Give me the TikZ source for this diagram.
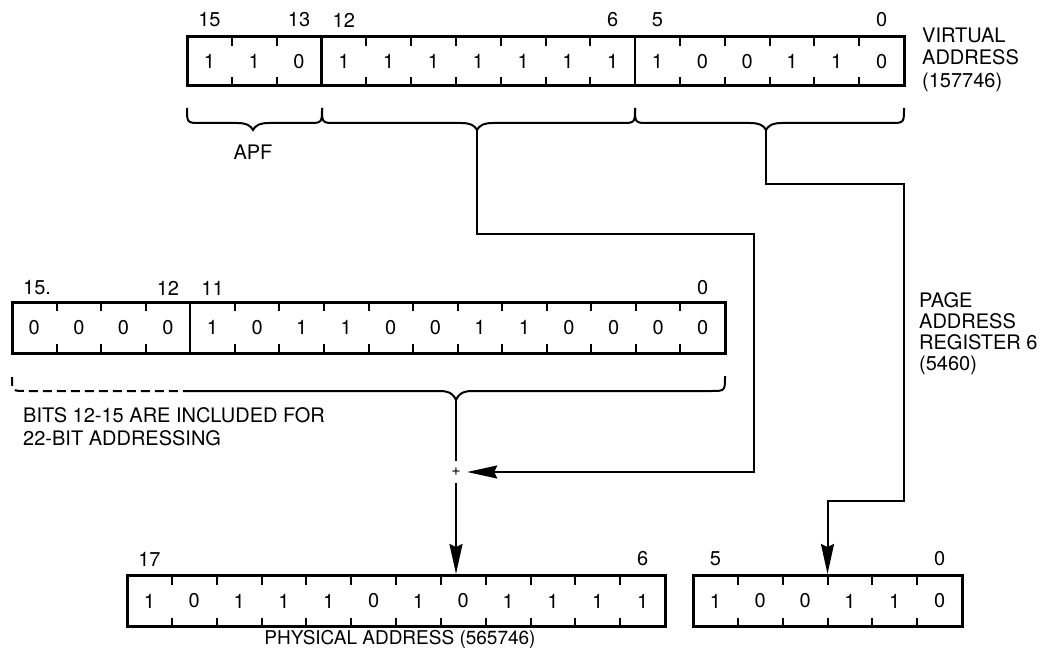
\documentclass[tikz,border=0pt]{standalone}
\usepackage{fontspec}
\setmainfont{TeX Gyre Heros}
\usetikzlibrary{arrows.meta,calc}
\newcommand\regticks[5]{% x0, cw, last index, ytop, ybot
  \foreach \i in {1,...,#3}{
    \draw[tick] (#1+\i*#2,#4) -- ++(0,9);
    \draw[tick] (#1+\i*#2,#5) -- ++(0,-9);
  }}
\newcommand\hbr[4]{% x1, xm, x2, y0
  \draw[brc] (#1,#4) .. controls (#1,#4+15) .. (#1+14,#4+15) -- (#2-16,#4+15)
    .. controls (#2-6,#4+15) and (#2-2,#4+18) .. (#2,#4+22)
    .. controls (#2+2,#4+18) and (#2+6,#4+15) .. (#2+16,#4+15)
    -- (#3-14,#4+15) .. controls (#3,#4+15) .. (#3,#4);}
\begin{document}
\begin{tikzpicture}[x=1pt,y=-1pt,
  txt/.style={inner sep=0pt, font=\fontsize{20}{22.5}\selectfont},
  bit/.style={txt},
  reg/.style={draw, line width=3pt, rectangle, inner sep=0pt},
  tick/.style={line width=2pt},
  divider/.style={line width=2.2pt},
  brc/.style={line width=2pt},
  conn/.style={line width=2pt},
  arr/.style={conn, -{Stealth[length=30pt,width=13pt,inset=3pt]}},
]
\useasboundingbox (0,0) rectangle (1047,650);

% ---------- virtual address register ----------
\node[reg, minimum width=717pt, minimum height=49pt] (va) at (545.5,61.5) {};
\regticks{187}{44.8125}{15}{37}{86}
\foreach \k in {3,10} \draw[divider] (187+\k*44.8125,37) -- (187+\k*44.8125,86);
\foreach \v [count=\i from 0] in {1,1,0,1,1,1,1,1,1,1,1,0,0,1,1,0}
  \node[bit] (va-\i) at (187+\i*44.8125+22.406,61.5) {\v};
\foreach \t/\k in {15/0,13/2,12/3,6/9,5/10,0/15}
  \node[txt] (vn-\k) at (187+\k*44.8125+22.406,20) {\t};
\node[txt, anchor=west, align=left] (vlab) at (922,59.5) {VIRTUAL\\ADDRESS\\(157746)};

% braces under virtual address
\hbr{187}{253}{322}{108}
\hbr{322}{477}{635}{108}
\hbr{635}{766}{904}{108}
\coordinate (b1) at (253,130);
\coordinate (b2) at (477,130);
\coordinate (b3) at (766,130);
\node[txt] (apf) at (253,152) {APF};

% ---------- page address register ----------
\node[reg, minimum width=713pt, minimum height=51pt] (par) at (368.5,327.5) {};
\regticks{12}{44.5625}{15}{302}{353}
\draw[divider] (12+4*44.5625,302) -- (12+4*44.5625,353);
\foreach \v [count=\i from 0] in {0,0,0,0,1,0,1,1,0,0,1,1,0,0,0,0}
  \node[bit] (pr-\i) at (12+\i*44.5625+22.28,327.5) {\v};
\node[txt] (pn-0) at (34.3,288) {15\rlap{.}};
\foreach \t/\k in {12/3,11/4,0/15}
  \node[txt] (pn-\k) at (12+\k*44.5625+22.28,288) {\t};
\node[txt, anchor=west, align=left, font=\fontsize{20}{21}\selectfont] (plab) at (919,333.5) {PAGE\\ADDRESS\\REGISTER 6\\(5460)};

% dashed brace
\draw[brc, dash pattern=on 9pt off 5pt] (12,377) .. controls (12,391) .. (26,391) -- (190,391);
\draw[brc] (190,391) -- (440,391) .. controls (450,391) and (454,395) .. (456,400)
  .. controls (458,395) and (462,391) .. (472,391) -- (711,391) .. controls (725,391) .. (725,376);
\coordinate (b4) at (456,400);
\node[txt, anchor=west, align=left, font=\fontsize{20}{23}\selectfont] (blab) at (23,426.5) {BITS 12-15 ARE INCLUDED FOR\\22-BIT ADDRESSING};

% adder
\node[circle, minimum size=22pt, inner sep=0pt, font=\fontsize{16}{16}\selectfont] (plus) at (456,472) {+};

% ---------- physical address registers ----------
\node[reg, minimum width=538pt, minimum height=51pt] (pa1) at (396,601) {};
\regticks{127}{44.8333}{11}{575.5}{626.5}
\foreach \v [count=\i from 0] in {1,0,1,1,1,0,1,0,1,1,1,1}
  \node[bit] (pa-\i) at (127+\i*44.8333+22.417,601) {\v};
\node[txt] (an-17) at (149.4,559) {17};
\node[txt] (an-6) at (642.6,559) {6};

\node[reg, minimum width=269pt, minimum height=51pt] (pa2) at (827.5,601) {};
\regticks{693}{44.8333}{5}{575.5}{626.5}
\foreach \v [count=\i from 0] in {1,0,0,1,1,0}
  \node[bit] (pb-\i) at (693+\i*44.8333+22.417,601) {\v};
\node[txt] (bn-5) at (715.4,559) {5};
\node[txt] (bn-0) at (939.6,559) {0};

\node[txt, font=\fontsize{19}{22}\selectfont] (phys) at (400,639.5) {PHYSICAL ADDRESS (565746)};

% ---------- connectors ----------
\draw[arr] (b2) -- (477,234) -- (754,234) |- (plus);
\draw[conn] (b4) -- (plus);
\draw[arr] (plus) -- (plus |- pa1.north);
\draw[arr] (b3) -- (766,184) -- (904,184) -- (904,501) -| (pa2.north);
\end{tikzpicture}
\end{document}
